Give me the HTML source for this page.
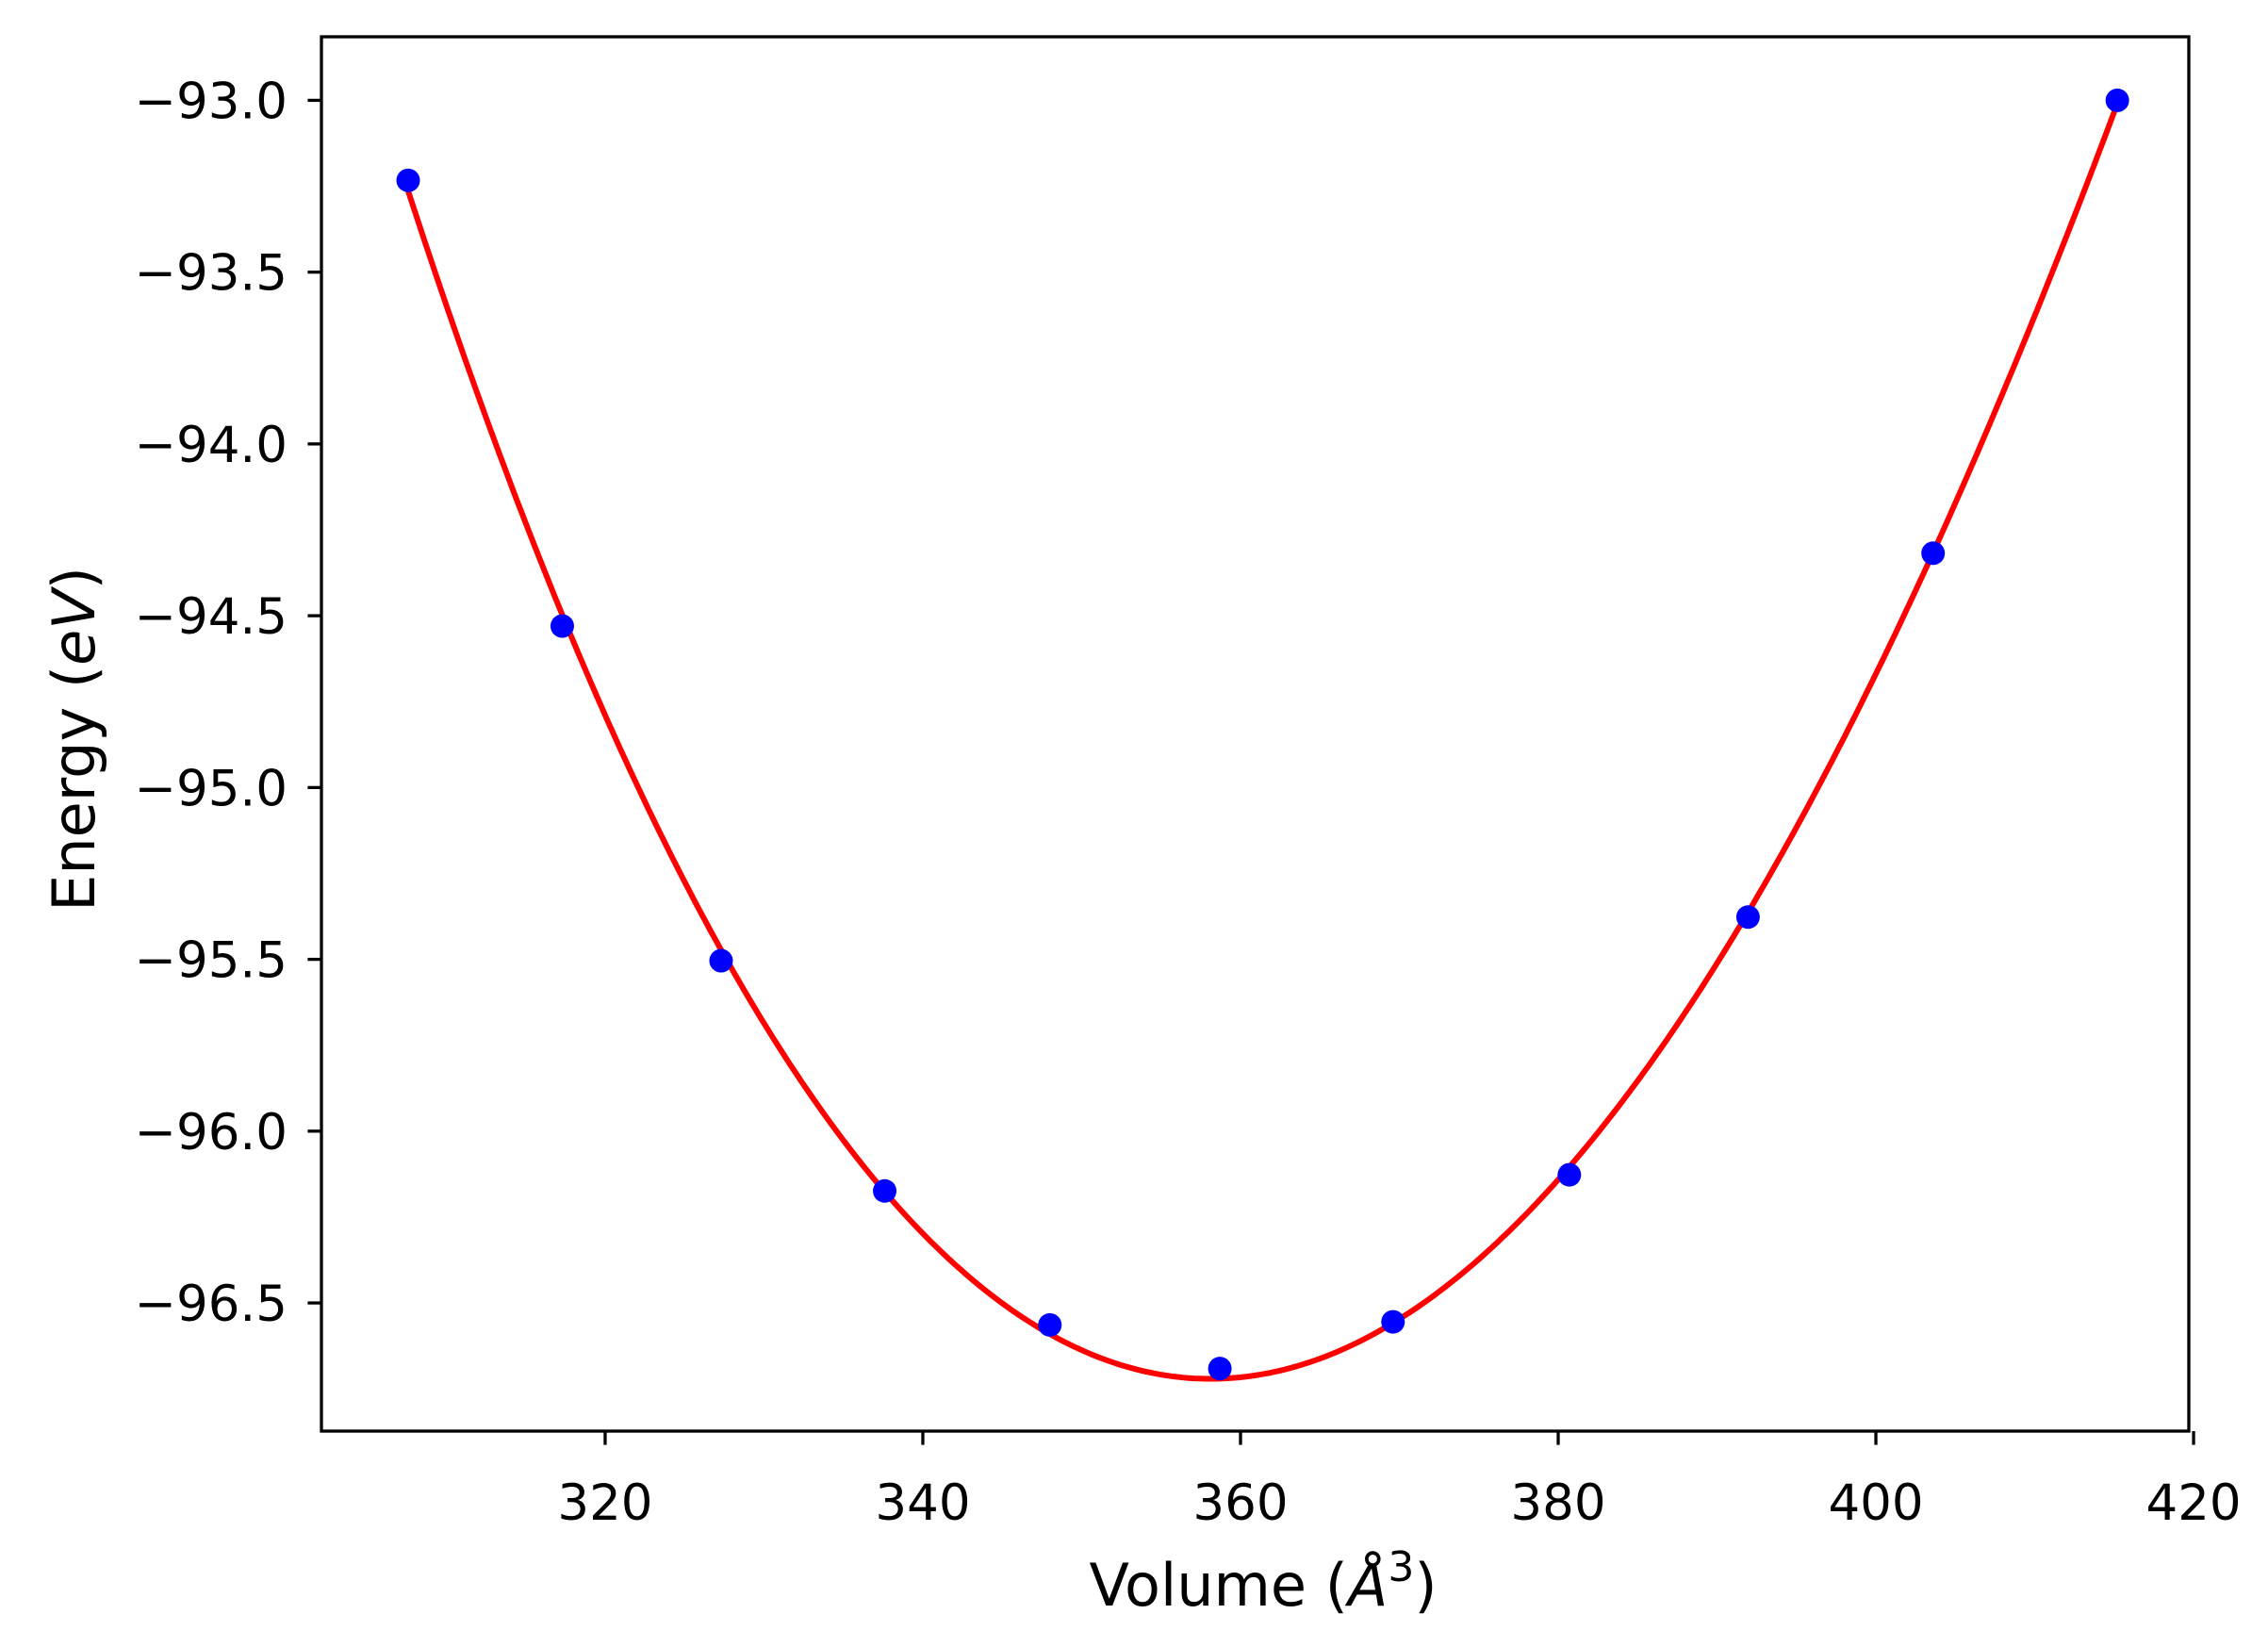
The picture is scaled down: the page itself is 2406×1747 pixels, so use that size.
<!DOCTYPE html>
<html><head><meta charset="utf-8"><style>
html,body{margin:0;padding:0;background:#fff;}
svg{display:block;font-family:"DejaVu Sans","Liberation Sans",sans-serif;}
</style></head><body>
<svg id="chart" width="2406" height="1747" viewBox="0 0 2406 1747" xmlns="http://www.w3.org/2000/svg">
<rect x="0" y="0" width="2406" height="1747" fill="#fff"/>
<g id="plot"></g>
<rect x="341" y="39" width="1981" height="1479" fill="none" stroke="#000" stroke-width="3.3"/>
<g id="xticks"></g>
<g id="yticks"></g>
<text x="1340" y="1703" font-size="62" text-anchor="middle">Volume (<tspan font-style="italic">Å</tspan><tspan font-size="44" dy="-26">3</tspan><tspan dy="26">)</tspan></text>
<text transform="translate(100,784) rotate(-90)" font-size="62" text-anchor="middle">Energy (<tspan font-style="italic">eV</tspan>)</text>
</svg>
<script>
const volumes = [307.6, 317.3, 327.3, 337.6, 348.0, 358.7, 369.6, 380.7, 391.95, 403.6, 415.2];
const energies = [-93.233, -94.530, -95.504, -96.174, -96.564, -96.691, -96.555, -96.127, -95.377, -94.318, -93.0];
const xTickValues = [320, 340, 360, 380, 400, 420];
const yTickValues = [-93.0, -93.5, -94.0, -94.5, -95.0, -95.5, -96.0, -96.5];

const L=341,R=2322,T=39,B=1518;
const xMin=302.14,xMax=419.7,yMin=-96.873,yMax=-92.815;
const sx=v=>L+(v-xMin)/(xMax-xMin)*(R-L);
const sy=v=>B-(v-yMin)/(yMax-yMin)*(B-T);
const NS='http://www.w3.org/2000/svg';
function mk(tag,attrs,parent){const e=document.createElementNS(NS,tag);for(const k in attrs)e.setAttribute(k,attrs[k]);parent.appendChild(e);return e;}

const xm=volumes.reduce((a,b)=>a+b,0)/volumes.length;
const n=4;const A=[];for(let i=0;i<n;i++){A.push(new Array(n+1).fill(0));}
volumes.forEach((v,k)=>{const t=(v-xm)/50;for(let i=0;i<n;i++){for(let j=0;j<n;j++)A[i][j]+=Math.pow(t,i+j);A[i][n]+=Math.pow(t,i)*energies[k];}});
for(let i=0;i<n;i++){let p=i;for(let r=i+1;r<n;r++)if(Math.abs(A[r][i])>Math.abs(A[p][i]))p=r;[A[i],A[p]]=[A[p],A[i]];for(let r=0;r<n;r++){if(r===i)continue;const f=A[r][i]/A[i][i];for(let c=i;c<=n;c++)A[r][c]-=f*A[i][c];}}
const coef=A.map((row,i)=>row[n]/row[i]);
const fit=v=>{const t=(v-xm)/50;return coef.reduce((s,c,i)=>s+c*Math.pow(t,i),0);};

const plot=document.getElementById('plot');
let d='';const v0=volumes[0],v1=volumes[volumes.length-1];
for(let i=0;i<=300;i++){const v=v0+(v1-v0)*i/300;d+=(i?'L':'M')+sx(v).toFixed(1)+','+sy(fit(v)).toFixed(1);}
const line=mk('path',{d:d,fill:'none',stroke:'#ff0000','stroke-width':6},plot);


volumes.forEach((v,i)=>{
  const c=mk('circle',{cx:sx(v),cy:sy(energies[i]),r:12.5,fill:'#0000ff'},plot);
  
  
});
const xg=document.getElementById('xticks');
xTickValues.forEach(v=>{
  const x=sx(v);
  const t=mk('line',{x1:x,x2:x,y1:B,y2:B+14.6,stroke:'#000','stroke-width':3.3},xg);
  
  
  const l=mk('text',{x:x,y:1612,'font-size':53,'text-anchor':'middle'},xg);
  l.textContent=String(v);
  
  
});
const yg=document.getElementById('yticks');
yTickValues.forEach(v=>{
  const y=sy(v);
  const t=mk('line',{x1:L-14.6,x2:L,y1:y,y2:y,stroke:'#000','stroke-width':3.3},yg);
  
  
  const l=mk('text',{x:305,y:y+19,'font-size':53,'text-anchor':'end'},yg);
  l.textContent='\u2212'+Math.abs(v).toFixed(1);
  
  
});
</script>
</body></html>
